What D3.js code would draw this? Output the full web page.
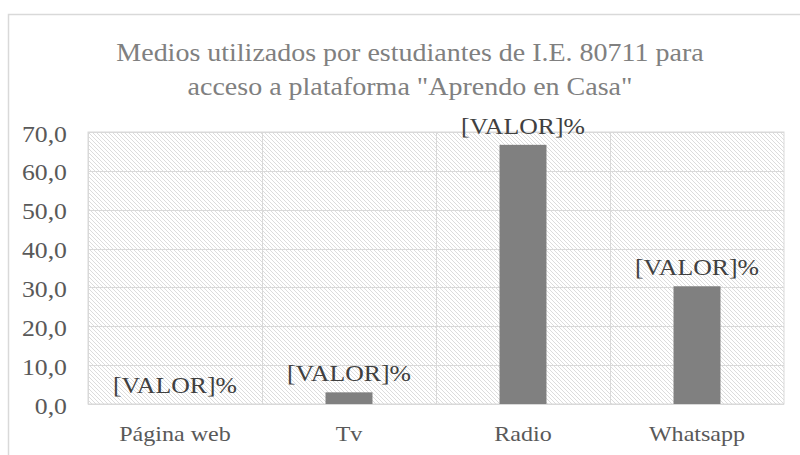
<!DOCTYPE html>
<html>
<head>
<meta charset="utf-8">
<script src="https://cdn.jsdelivr.net/npm/d3@7"></script>
<style>
  body { margin: 0; background: #fff; }
</style>
</head>
<body>
<div id="chart"></div>
<script>
const categories = ["Página web", "Tv", "Radio", "Whatsapp"];
const values = [0, 3.0, 66.7, 30.3];
const valueLabels = ["[VALOR]%", "[VALOR]%", "[VALOR]%", "[VALOR]%"];
const titleLines = ["Medios utilizados por estudiantes de I.E. 80711 para", "acceso a plataforma \"Aprendo en Casa\""];
const yTicks = [0, 10, 20, 30, 40, 50, 60, 70];

const width = 800, height = 455;
const plot = { left: 88, right: 784, top: 132, bottom: 404 };
const stretch = 1.12; // the source picture is widened sideways
const serif = "'Liberation Serif', 'Times New Roman', serif";

const comma = d3.formatLocale({ decimal: ",", thousands: ".", grouping: [3], currency: ["", ""] }).format(".1f");

const x = d3.scaleBand().domain(categories).range([plot.left, plot.right]);
const y = d3.scaleLinear().domain([0, 70]).range([plot.bottom, plot.top]);
const barW = x.bandwidth() * 0.27;

const svg = d3.select("#chart").append("svg")
    .attr("width", width)
    .attr("height", height)
    .style("font-family", serif);

const defs = svg.append("defs");
const pat = defs.append("pattern")
    .attr("id", "hatch")
    .attr("patternUnits", "userSpaceOnUse")
    .attr("width", 4)
    .attr("height", 4);
pat.append("rect").attr("width", 4).attr("height", 4).attr("fill", "#fff");
pat.append("path")
    .attr("d", "M0,0 L4,4 M-1,3 L1,5 M3,-1 L5,1")
    .attr("stroke", "#dcdcdc")
    .attr("stroke-width", 1);

// chart frame (only top and left edges are visible)
svg.append("path")
    .attr("d", `M8.5,${height} V14.5 H${width}`)
    .attr("fill", "none")
    .attr("stroke", "#d9d9d9")
    .attr("stroke-width", 1.5);

const place = (sel, px, py) => sel.attr("transform", `translate(${px},${py}) scale(${stretch},1)`);

// title
titleLines.forEach((t, i) => {
    svg.append("text")
        .attr("text-anchor", "middle")
        .style("font-family", serif)
        .attr("font-size", 25)
        .attr("fill", "#808080")
        .text(t)
        .call(place, 410, 61 + i * 34);
});

// plot background
svg.append("rect")
    .attr("x", plot.left)
    .attr("y", plot.top)
    .attr("width", plot.right - plot.left)
    .attr("height", plot.bottom - plot.top)
    .attr("fill", "url(#hatch)")
    .attr("stroke", "#d9d9d9");

// gridlines
svg.append("g")
    .selectAll("line")
    .data(yTicks)
    .join("line")
    .attr("x1", plot.left).attr("x2", plot.right)
    .attr("y1", d => Math.round(y(d)) + 0.5).attr("y2", d => Math.round(y(d)) + 0.5)
    .attr("stroke", "#d9d9d9");

svg.append("g")
    .selectAll("line")
    .data(categories)
    .join("line")
    .attr("x1", d => Math.round(x(d)) + 0.5).attr("x2", d => Math.round(x(d)) + 0.5)
    .attr("y1", plot.top).attr("y2", plot.bottom)
    .attr("stroke", "#d9d9d9");

// y axis
const yAxis = svg.append("g")
    .attr("transform", `translate(67,0)`)
    .call(d3.axisLeft(y).tickValues(yTicks).tickFormat(comma).tickSize(0).tickPadding(0));
yAxis.attr("font-family", null).attr("font-size", null);
yAxis.select(".domain").remove();
yAxis.selectAll("text")
    .style("font-family", serif)
    .attr("font-size", 23)
    .attr("fill", "#595959")
    .attr("dy", null)
    .attr("x", 0)
    .attr("y", 0)
    .attr("transform", `translate(0,9) scale(${stretch},1)`);

// x axis labels
svg.append("g")
    .selectAll("text")
    .data(categories)
    .join("text")
    .attr("text-anchor", "middle")
    .style("font-family", serif)
    .attr("font-size", 21.5)
    .attr("fill", "#595959")
    .text(d => d)
    .each(function(d) { place(d3.select(this), x(d) + x.bandwidth() / 2, 441); });

// bars
svg.append("g")
    .selectAll("rect")
    .data(values)
    .join("rect")
    .attr("x", (d, i) => x(categories[i]) + (x.bandwidth() - barW) / 2)
    .attr("y", d => y(d))
    .attr("width", barW)
    .attr("height", d => y(0) - y(d))
    .attr("fill", "#808080");

// data labels
svg.append("g")
    .selectAll("text")
    .data(values)
    .join("text")
    .attr("text-anchor", "middle")
    .style("font-family", serif)
    .attr("font-size", 23)
    .attr("fill", "#404040")
    .text((d, i) => valueLabels[i])
    .each(function(d, i) { place(d3.select(this), x(categories[i]) + x.bandwidth() / 2, y(d) - 11); });
</script>
</body>
</html>
